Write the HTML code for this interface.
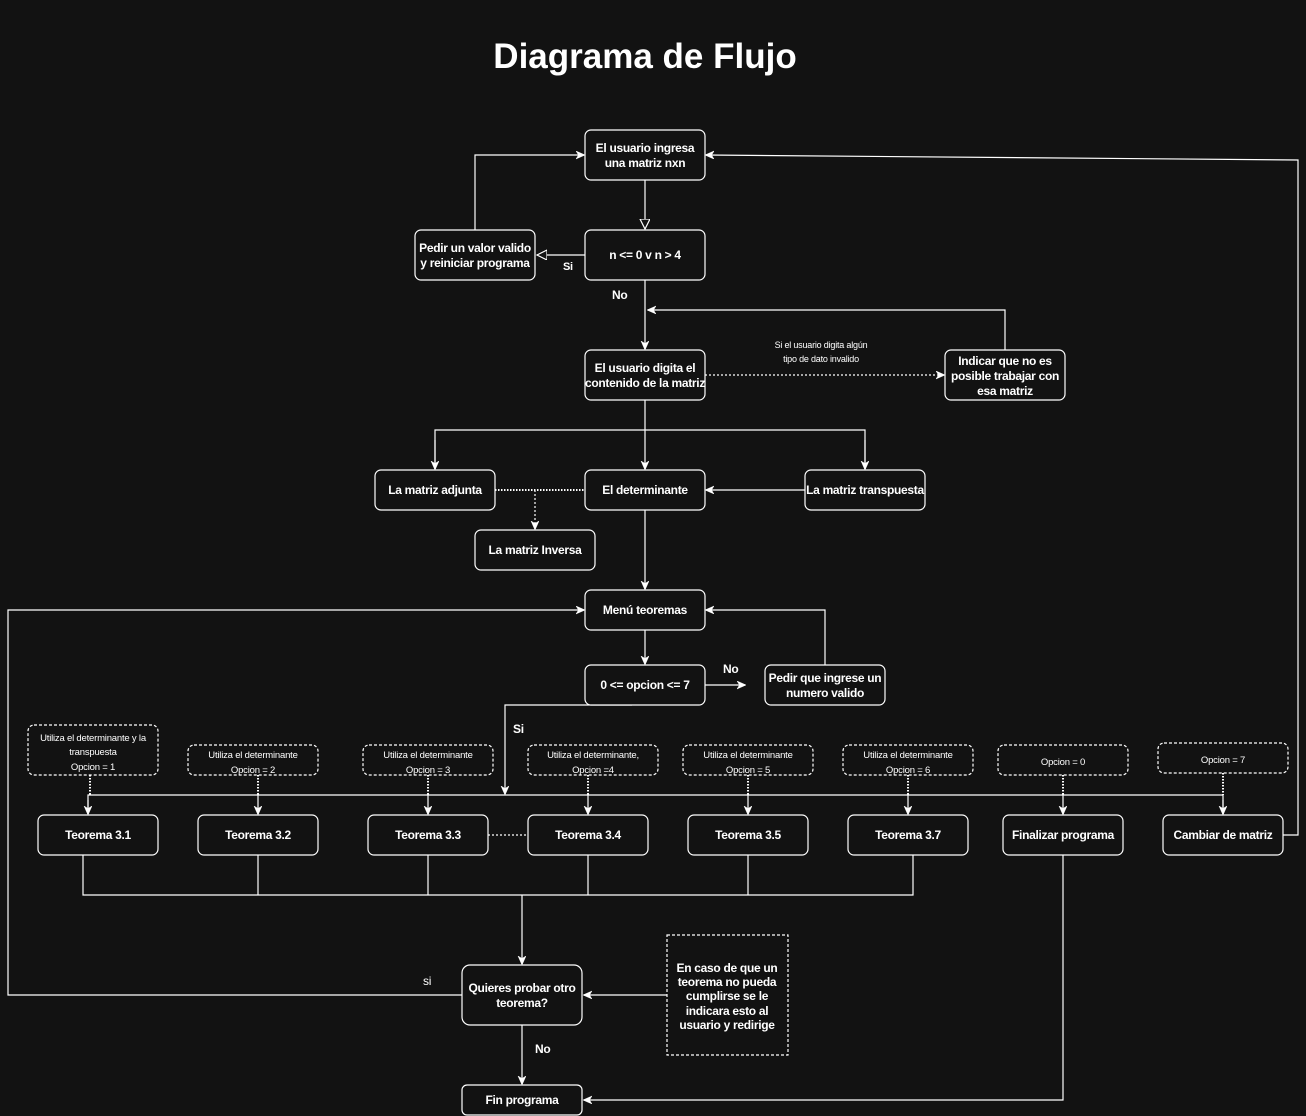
<!DOCTYPE html>
<html><head><meta charset="utf-8"><style>
html,body{margin:0;padding:0;background:#121212;}
svg{display:block}
text{font-family:"Liberation Sans",Arial,sans-serif;fill:#fff;}
.b{font-size:12px;font-weight:bold;text-anchor:middle;letter-spacing:-0.3px}
.s{font-size:9.5px;text-anchor:middle;letter-spacing:-0.2px}
.l{font-size:12px;font-weight:bold;letter-spacing:-0.3px}
rect{fill:#121212;stroke:#fff;stroke-width:1.2}
rect.d{stroke-dasharray:3 2}
path,line{fill:none;stroke:#fff;stroke-width:1.2}
.dt{stroke-dasharray:2 2}
.dot{stroke-dasharray:1.5 1.5;stroke-width:2}
</style></head><body>
<svg width="1306" height="1116" viewBox="0 0 1306 1116" xmlns="http://www.w3.org/2000/svg">
<defs>
<marker id="a" markerWidth="10" markerHeight="10" refX="8" refY="4" orient="auto" markerUnits="userSpaceOnUse">
<path d="M0,0 L9,4 L0,8 L2.5,4 z" style="fill:#fff;stroke:#fff;stroke-width:0.5"/></marker>
<marker id="h" markerWidth="12" markerHeight="12" refX="10" refY="5" orient="auto" markerUnits="userSpaceOnUse">
<path d="M0,0 L10,5 L0,10 z" style="fill:#121212;stroke:#fff;stroke-width:1.2"/></marker>
</defs>
<text x="645" y="68" style="font-size:35px;font-weight:bold;text-anchor:middle">Diagrama de Flujo</text>

<path d="M475,230 V155 H584" marker-end="url(#a)"/>
<path d="M645,180 V229" marker-end="url(#h)"/>
<path d="M585,255 H537" marker-end="url(#h)"/>
<path d="M645,280 V349" marker-end="url(#a)"/>
<path d="M1005,350 V310 H648" marker-end="url(#a)"/>
<path class="dt" d="M705,375 H944" marker-end="url(#a)"/>
<path d="M645,400 V469" marker-end="url(#a)"/>
<path d="M435,469 V430 H865 V469" />
<path d="M435,440 V469" marker-end="url(#a)"/>
<path d="M865,440 V469" marker-end="url(#a)"/>
<path d="M805,490 H706" marker-end="url(#a)"/>
<path class="dot" d="M495,490 H585"/>
<path class="dt" d="M535,490 V529" marker-end="url(#a)"/>
<path d="M645,510 V589" marker-end="url(#a)"/>
<path d="M645,630 V664" marker-end="url(#a)"/>
<path d="M705,685 H745" marker-end="url(#a)"/>
<path d="M825,665 V610 H706" marker-end="url(#a)"/>
<path d="M632,705 H505 V794" marker-end="url(#a)"/>
<path d="M88,814 V795 H1223 V814"/>
<path d="M88,800 V814" marker-end="url(#a)"/>
<path d="M258,795 V814" marker-end="url(#a)"/>
<path d="M428,795 V814" marker-end="url(#a)"/>
<path d="M588,795 V814" marker-end="url(#a)"/>
<path d="M748,795 V814" marker-end="url(#a)"/>
<path d="M908,795 V814" marker-end="url(#a)"/>
<path d="M1063,795 V814" marker-end="url(#a)"/>
<path d="M1223,800 V814" marker-end="url(#a)"/>
<g class="dot" style="stroke:#bbb">
<path class="dot" d="M90,775 V795"/><path class="dot" d="M258,775 V795"/><path class="dot" d="M428,775 V795"/>
<path class="dot" d="M588,775 V795"/><path class="dot" d="M748,775 V795"/><path class="dot" d="M908,775 V795"/>
<path class="dot" d="M1063,775 V795"/><path class="dot" d="M1223,773 V795"/>
</g>
<path class="dt" d="M488,835 H528"/>
<path d="M83,855 V895 H913 V855 M258,855 V895 M428,855 V895 M588,855 V895 M748,855 V895"/>
<path d="M522,895 V964" marker-end="url(#a)"/>
<path d="M1283,835 H1298 V160 L706,155" marker-end="url(#a)"/>
<path d="M1063,855 V1100 H584" marker-end="url(#a)"/>
<path d="M462,995 H8 V610 H584" marker-end="url(#a)"/>
<path d="M667,995 H584" marker-end="url(#a)"/>
<path d="M522,1025 V1084" marker-end="url(#a)"/>

<text class="l" x="563" y="270" style="font-size:11px">Si</text>
<text class="l" x="612" y="299">No</text>
<text class="s" x="821" y="348" style="font-size:9px">Si el usuario digita algún</text>
<text class="s" x="821" y="362" style="font-size:9px">tipo de dato invalido</text>
<text class="l" x="723" y="673">No</text>
<text class="l" x="513" y="733">Si</text>
<text class="l" x="423" y="985" style="font-weight:normal">si</text>
<text class="l" x="535" y="1053">No</text>

<rect x="585" y="130" width="120" height="50" rx="6"/>
<text class="b" x="645" y="152">El usuario ingresa</text><text class="b" x="645" y="167">una matriz nxn</text>
<rect x="585" y="230" width="120" height="50" rx="6"/>
<text class="b" x="645" y="259">n &lt;= 0 v n &gt; 4</text>
<rect x="415" y="230" width="120" height="50" rx="6"/>
<text class="b" x="475" y="252">Pedir un valor valido</text><text class="b" x="475" y="267">y reiniciar programa</text>
<rect x="585" y="350" width="120" height="50" rx="6"/>
<text class="b" x="645" y="372">El usuario digita el</text><text class="b" x="645" y="387">contenido de la matriz</text>
<rect x="945" y="350" width="120" height="50" rx="6"/>
<text class="b" x="1005" y="365">Indicar que no es</text><text class="b" x="1005" y="380">posible trabajar con</text><text class="b" x="1005" y="395">esa matriz</text>
<rect x="375" y="470" width="120" height="40" rx="6"/>
<text class="b" x="435" y="494">La matriz adjunta</text>
<rect x="585" y="470" width="120" height="40" rx="6"/>
<text class="b" x="645" y="494">El determinante</text>
<rect x="805" y="470" width="120" height="40" rx="6"/>
<text class="b" x="865" y="494">La matriz transpuesta</text>
<rect x="475" y="530" width="120" height="40" rx="6"/>
<text class="b" x="535" y="554">La matriz Inversa</text>
<rect x="585" y="590" width="120" height="40" rx="6"/>
<text class="b" x="645" y="614">Menú teoremas</text>
<rect x="585" y="665" width="120" height="40" rx="6"/>
<text class="b" x="645" y="689">0 &lt;= opcion &lt;= 7</text>
<rect x="765" y="665" width="120" height="40" rx="6"/>
<text class="b" x="825" y="682">Pedir que ingrese un</text><text class="b" x="825" y="697">numero valido</text>

<rect class="d" x="28" y="725" width="130" height="50" rx="6"/>
<text class="s" x="93" y="741">Utiliza el determinante y la</text><text class="s" x="93" y="755">transpuesta</text><text class="s" x="93" y="770">Opcion = 1</text>
<rect class="d" x="188" y="745" width="130" height="30" rx="6"/>
<text class="s" x="253" y="758">Utiliza el determinante</text><text class="s" x="253" y="773">Opcion = 2</text>
<rect class="d" x="363" y="745" width="130" height="30" rx="6"/>
<text class="s" x="428" y="758">Utiliza el determinante</text><text class="s" x="428" y="773">Opcion = 3</text>
<rect class="d" x="528" y="745" width="130" height="30" rx="6"/>
<text class="s" x="593" y="758">Utiliza el determinante,</text><text class="s" x="593" y="773">Opcion =4</text>
<rect class="d" x="683" y="745" width="130" height="30" rx="6"/>
<text class="s" x="748" y="758">Utiliza el determinante</text><text class="s" x="748" y="773">Opcion = 5</text>
<rect class="d" x="843" y="745" width="130" height="30" rx="6"/>
<text class="s" x="908" y="758">Utiliza el determinante</text><text class="s" x="908" y="773">Opcion = 6</text>
<rect class="d" x="998" y="745" width="130" height="30" rx="6"/>
<text class="s" x="1063" y="765">Opcion = 0</text>
<rect class="d" x="1158" y="743" width="130" height="30" rx="6"/>
<text class="s" x="1223" y="763">Opcion = 7</text>

<rect x="38" y="815" width="120" height="40" rx="6"/><text class="b" x="98" y="839">Teorema 3.1</text>
<rect x="198" y="815" width="120" height="40" rx="6"/><text class="b" x="258" y="839">Teorema 3.2</text>
<rect x="368" y="815" width="120" height="40" rx="6"/><text class="b" x="428" y="839">Teorema 3.3</text>
<rect x="528" y="815" width="120" height="40" rx="6"/><text class="b" x="588" y="839">Teorema 3.4</text>
<rect x="688" y="815" width="120" height="40" rx="6"/><text class="b" x="748" y="839">Teorema 3.5</text>
<rect x="848" y="815" width="120" height="40" rx="6"/><text class="b" x="908" y="839">Teorema 3.7</text>
<rect x="1003" y="815" width="120" height="40" rx="6"/><text class="b" x="1063" y="839">Finalizar programa</text>
<rect x="1163" y="815" width="120" height="40" rx="6"/><text class="b" x="1223" y="839">Cambiar de matriz</text>

<rect x="462" y="965" width="120" height="60" rx="8"/>
<text class="b" x="522" y="992">Quieres probar otro</text><text class="b" x="522" y="1007">teorema?</text>
<rect class="d" x="667" y="935" width="121" height="120" rx="0"/>
<text class="b" x="727" y="972">En caso de que un</text><text class="b" x="727" y="986">teorema no pueda</text><text class="b" x="727" y="1000">cumplirse se le</text><text class="b" x="727" y="1015">indicara esto al</text><text class="b" x="727" y="1029">usuario y redirige</text>
<rect x="462" y="1085" width="120" height="30" rx="5"/>
<text class="b" x="522" y="1104">Fin programa</text>
</svg>
</body></html>
